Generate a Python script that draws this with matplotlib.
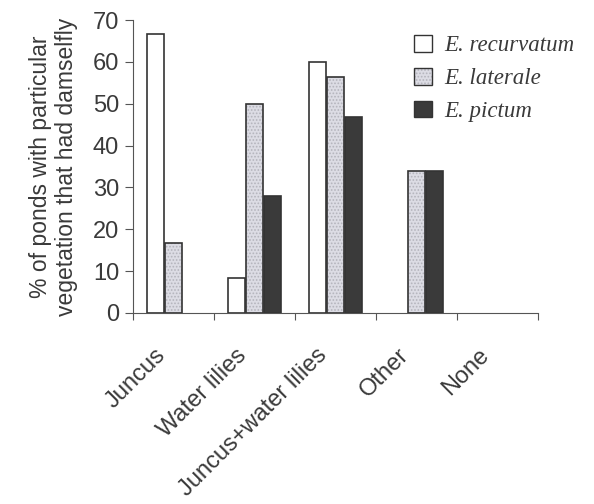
import numpy as np
import matplotlib.pyplot as plt
from matplotlib.patches import Patch
from matplotlib.legend_handler import HandlerTuple

plt.rcParams['font.family'] = ['Liberation Sans', 'DejaVu Sans']
plt.rcParams['hatch.linewidth'] = 0.8

# Dados
categorias = ['Juncus', 'Water lilies', 'Juncus+water lilies', 'Other', 'None']
especies = ['E. recurvatum', 'E. laterale', 'E. pictum']
recurvatum = [66.7, 8.3, 60.0, 0, 0]
laterale = [16.7, 50.0, 56.3, 33.9, 0]
pictum = [0, 28.0, 46.9, 33.9, 0]

cores = ['white', '#dcdce4', '#3a3a3a']
hachuras = [None, '.....', None]
largura = 0.21
desloc = [-0.225, 0.0, 0.225]
borda_cor = '#333333'

fig = plt.figure(figsize=(5.94, 5.04), dpi=100)
ax = fig.add_axes([0.224, 0.379, 0.682, 0.581])

x = np.arange(len(categorias)) + 0.5
handles = []
for serie, cor, hach, d in zip([recurvatum, laterale, pictum], cores, hachuras, desloc):
    # camada de preenchimento (com textura pontilhada na série cinza)
    fundo = ax.bar(x + d, serie, width=largura, color=cor, edgecolor='#b4b4bc',
                   hatch=hach, linewidth=0)
    # contorno
    borda = ax.bar(x + d, serie, width=largura, fill=False, edgecolor=borda_cor, linewidth=1.2)
    for p1, p2, v in zip(fundo.patches, borda.patches, serie):
        if v == 0:
            p1.set_visible(False)
            p2.set_visible(False)
    handles.append((Patch(facecolor=cor, edgecolor='#b4b4bc', hatch=hach, linewidth=0),
                    Patch(fill=False, edgecolor=borda_cor, linewidth=1.0)))

ax.set_xlim(0, len(categorias))
ax.set_ylim(0, 70)
ax.set_yticks(np.arange(0, 71, 10))
ax.set_xticks(np.arange(0, len(categorias) + 1))
ax.set_xticklabels([])
ax.tick_params(axis='x', direction='out', length=5, color='#555555')
ax.tick_params(axis='y', direction='out', length=6, color='#555555', labelsize=17,
               labelcolor='#3a3a3a', pad=4)

# rótulos das categorias inclinados
for xi, nome in zip(x, categorias):
    ax.text(xi - 0.24, -7.5, nome, rotation=45, ha='right', va='top', fontsize=17,
            color='#3a3a3a', rotation_mode='anchor')

ax.spines['top'].set_visible(False)
ax.spines['right'].set_visible(False)
ax.spines['left'].set_color('#555555')
ax.spines['bottom'].set_color('#555555')

ax.set_ylabel('% of ponds with particular\nvegetation that had damselfly', fontsize=16.5,
              color='#3a3a3a', labelpad=11, linespacing=1.15)

leg = ax.legend(handles, especies, handler_map={tuple: HandlerTuple(ndivide=1, pad=0)},
                frameon=False, loc='upper right', bbox_to_anchor=(1.14, 1.02),
                prop={'family': 'Liberation Serif', 'style': 'italic', 'size': 16.5},
                handlelength=0.75, handleheight=0.75, labelspacing=0.5, handletextpad=0.55)
for t in leg.get_texts():
    t.set_color('#3a3a3a')

plt.savefig('out.png', dpi=100)
